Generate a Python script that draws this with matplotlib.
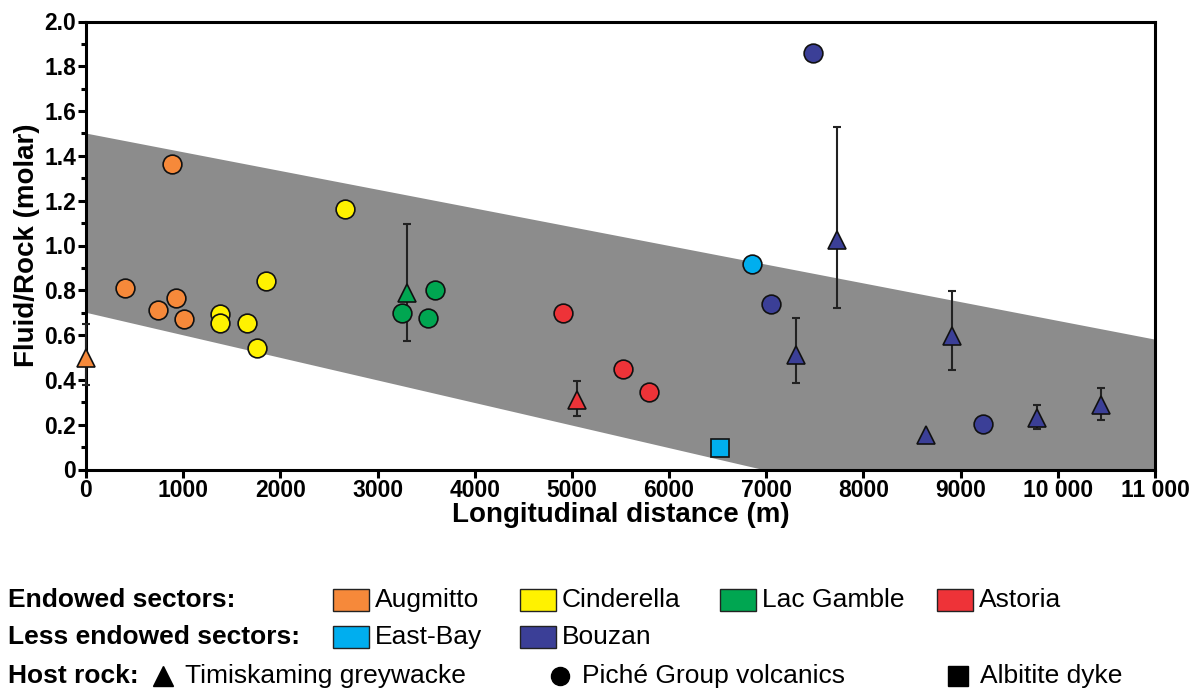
import matplotlib.pyplot as plt
import numpy as np
from matplotlib.patches import Rectangle
from matplotlib.lines import Line2D

plt.rcParams['font.family'] = ['Liberation Sans', 'DejaVu Sans']

# sector colours
colors = {
    'Augmitto': '#F6893A',
    'Cinderella': '#FFF200',
    'Lac Gamble': '#00A651',
    'Astoria': '#EE3338',
    'East-Bay': '#00AEEF',
    'Bouzan': '#3B3F97',
}

# gray envelope (upper and lower edge)
band_up_x = [0, 11000]
band_up_y = [1.50, 0.58]
band_lo_x = [0, 6950]
band_lo_y = [0.70, 0.0]

# circles = Piché Group volcanics
circ_sector = ['Augmitto'] * 5 + ['Cinderella'] * 6 + ['Lac Gamble'] * 3 + \
              ['Astoria'] * 3 + ['East-Bay'] + ['Bouzan'] * 3
circ_x = [406, 739, 931, 1007, 887,
          1377, 1377, 1659, 1755, 1854, 2660,
          3254, 3596, 3521,
          4907, 5528, 5791,
          6855,
          7051, 7479, 9228]
circ_y = [0.809, 0.712, 0.764, 0.670, 1.363,
          0.693, 0.652, 0.655, 0.541, 0.843, 1.162,
          0.700, 0.801, 0.677,
          0.697, 0.447, 0.347,
          0.916,
          0.739, 1.859, 0.202]

# triangles = Timiskaming greywacke (with min/max bars)
tri_sector = ['Augmitto', 'Lac Gamble', 'Astoria'] + ['Bouzan'] * 6
tri_x = [0, 3301, 5054, 7301, 7726, 8639, 8910, 9788, 10449]
tri_y = [0.50, 0.786, 0.31, 0.511, 1.025, 0.155, 0.596, 0.232, 0.29]
tri_lo = [0.376, 0.572, 0.240, 0.387, 0.722, np.nan, 0.444, 0.179, 0.223]
tri_hi = [0.650, 1.095, 0.396, 0.675, 1.528, np.nan, 0.797, 0.290, 0.363]

# squares = albitite dyke
sq_sector = ['East-Bay']
sq_x = [6519]
sq_y = [0.094]

xticks = list(range(0, 11001, 1000))
xticklabels = ['0', '1000', '2000', '3000', '4000', '5000', '6000', '7000',
               '8000', '9000', '10 000', '11 000']

W, H = 1198, 693
fig = plt.figure(figsize=(W / 100, H / 100), dpi=100)
ax = fig.add_axes([86 / W, 1 - 469.5 / H, (1155 - 86) / W, (469.5 - 21.5) / H])

poly_x = band_up_x + band_up_x[::-1][:1] + band_lo_x[::-1]
poly_y = band_up_y + [0.0] + band_lo_y[::-1]
ax.fill(poly_x, poly_y, color='#8C8C8C', lw=0, zorder=1)

ms = 13.5
for i in range(len(tri_x)):
    if not np.isnan(tri_lo[i]):
        ax.errorbar([tri_x[i]], [tri_y[i]],
                    yerr=[[tri_y[i] - tri_lo[i]], [tri_hi[i] - tri_y[i]]],
                    fmt='none', ecolor='#222222', elinewidth=1.5,
                    capsize=3.2, capthick=1.5, zorder=3, clip_on=False)
    ax.plot(tri_x[i], tri_y[i], marker='^', ms=ms, mfc=colors[tri_sector[i]],
            mec='#111111', mew=1.2, ls='none', zorder=5, clip_on=False)

for i in range(len(circ_x)):
    ax.plot(circ_x[i], circ_y[i], marker='o', ms=ms, mfc=colors[circ_sector[i]],
            mec='#111111', mew=1.2, ls='none', zorder=4)

for i in range(len(sq_x)):
    ax.plot(sq_x[i], sq_y[i], marker='s', ms=12.5, mfc=colors[sq_sector[i]],
            mec='#111111', mew=1.2, ls='none', zorder=4)

ax.set_xlim(0, 11000)
ax.set_ylim(0, 2.0)
ax.set_xticks(xticks)
ax.set_xticklabels(xticklabels)
ax.set_yticks(np.arange(0, 2.01, 0.2))
ax.set_yticklabels(['0'] + [f'{v:.1f}' for v in np.arange(0.2, 2.01, 0.2)])
ax.set_yticks(np.arange(0.1, 2.0, 0.2), minor=True)
for s in ax.spines.values():
    s.set_linewidth(2.2)
ax.tick_params(axis='both', which='major', direction='out', length=6, width=2.2,
               labelsize=16.5, pad=1)
ax.tick_params(axis='y', which='minor', direction='out', length=3.5, width=2.2)
for lab in ax.get_xticklabels() + ax.get_yticklabels():
    lab.set_fontweight('bold')
ax.set_xlabel('Longitudinal distance (m)', fontsize=20, fontweight='bold', labelpad=0)
ax.set_ylabel('Fluid/Rock (molar)', fontsize=20, fontweight='bold', labelpad=3)

# legend drawn below the axes
def fx(px):
    return px / W

def fy(py):
    return 1 - py / H

rows_y = [600, 637, 676]
fs = 19
fig.text(fx(8), fy(rows_y[0]), 'Endowed sectors:', fontsize=fs, fontweight='bold', va='center')
fig.text(fx(8), fy(rows_y[1]), 'Less endowed sectors:', fontsize=fs, fontweight='bold', va='center')
fig.text(fx(8), fy(rows_y[2]), 'Host rock:', fontsize=fs, fontweight='bold', va='center')

leg_sectors = [('Augmitto', 333, 0), ('Cinderella', 520, 0), ('Lac Gamble', 720, 0),
               ('Astoria', 937, 0), ('East-Bay', 333, 1), ('Bouzan', 520, 1)]
for name, px, r in leg_sectors:
    yc = rows_y[r]
    fig.add_artist(Rectangle((fx(px), fy(yc + 11)), 36 / W, 22 / H,
                             transform=fig.transFigure, facecolor=colors[name],
                             edgecolor='#222222', lw=1.0))
    fig.text(fx(px + 42), fy(yc), name, fontsize=fs, va='center')

leg_rocks = [('^', 'Timiskaming greywacke', 163), ('o', 'Piché Group volcanics', 560),
             ('s', 'Albitite dyke', 958)]
for mk, name, px in leg_rocks:
    fig.add_artist(Line2D([fx(px)], [fy(rows_y[2])], marker=mk, ms=14 if mk != 'o' else 13,
                          color='black', ls='none', transform=fig.transFigure))
    fig.text(fx(px + 22), fy(rows_y[2]), name, fontsize=fs, va='center')

fig.savefig('out.png', dpi=100)
